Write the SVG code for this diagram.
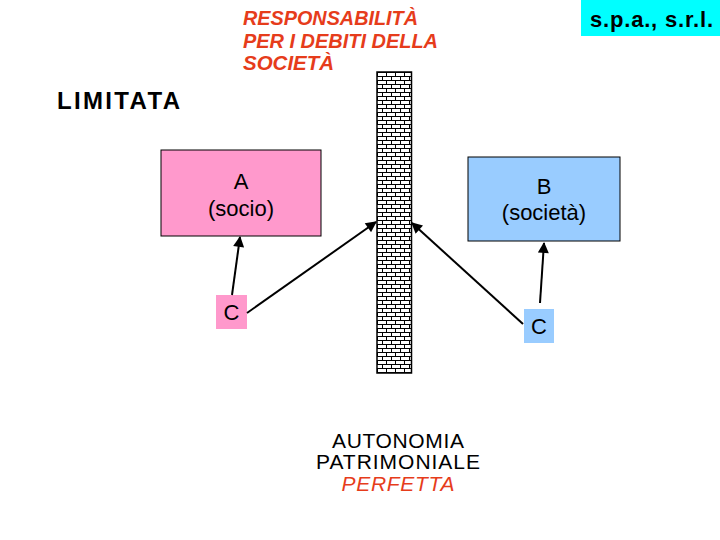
<svg xmlns="http://www.w3.org/2000/svg" width="720" height="540" viewBox="0 0 720 540">
<style>
text{font-family:"Liberation Sans",Arial,sans-serif;}
.red{fill:#E63C1B;font-weight:bold;font-style:italic;font-size:20.5px;}
.lbl{font-size:22px;fill:#000;text-anchor:middle;}
.bot{font-size:21px;fill:#000;text-anchor:middle;}
.conn{stroke:#000;stroke-width:2;fill:none;marker-end:url(#ah);}
</style>
<defs>
<marker id="ah" viewBox="0 0 10 10" refX="9" refY="5" markerWidth="6" markerHeight="5.5" orient="auto" markerUnits="strokeWidth">
<path d="M0,0 L10,5 L0,10 z" fill="#000"/>
</marker>
<pattern id="brick" patternUnits="userSpaceOnUse" x="377" y="72" width="18" height="8">
<rect width="18" height="8" fill="#fff"/>
<path d="M0,0.5 H18 M0,4.5 H18 M0.5,0.5 V4.5 M9.5,0.5 V4.5 M5.5,4.5 V8.5 M14.5,4.5 V8.5" stroke="#000" stroke-width="1" fill="none"/>
</pattern>
</defs>
<rect width="720" height="540" fill="#fff"/>

<g id="title">
<text class="red" x="243" y="25" textLength="175" lengthAdjust="spacingAndGlyphs">RESPONSABILITÀ</text>
<text class="red" x="243" y="48" textLength="195" lengthAdjust="spacingAndGlyphs">PER I DEBITI DELLA</text>
<text class="red" x="243" y="70">SOCIETÀ</text>
</g>

<g id="spa">
<rect x="581" y="0" width="139" height="36" fill="#00FFFF"/>
<text x="590" y="27" font-size="22" font-weight="bold" textLength="123" lengthAdjust="spacing">s.p.a., s.r.l.</text>
</g>

<g id="limitata">
<text x="57" y="109" font-size="24" font-weight="bold" textLength="123" lengthAdjust="spacing">LIMITATA</text>
</g>

<g id="wall">
<rect x="377" y="72" width="34.5" height="301" fill="url(#brick)" stroke="#000" stroke-width="1.5"/>
</g>

<g id="nodeA">
<rect x="161" y="150" width="160" height="86" fill="#FF99CC" stroke="#000" stroke-width="1"/>
<text class="lbl" x="241" y="189">A</text>
<text class="lbl" x="241" y="216">(socio)</text>
</g>

<g id="nodeB">
<rect x="468" y="157" width="152" height="84" fill="#99CCFF" stroke="#000" stroke-width="1"/>
<text class="lbl" x="544" y="194">B</text>
<text class="lbl" x="544" y="220">(società)</text>
</g>

<g id="nodeC1">
<rect x="216" y="295" width="31" height="34" fill="#FF99CC"/>
<text class="lbl" x="231.5" y="320">C</text>
</g>

<g id="nodeC2">
<rect x="524" y="309" width="30" height="34" fill="#99CCFF"/>
<text class="lbl" x="539" y="334">C</text>
</g>

<g id="connectors">
<line class="conn" x1="232" y1="295" x2="240" y2="237"/>
<line class="conn" x1="247" y1="313" x2="376" y2="222"/>
<line class="conn" x1="540" y1="303" x2="544" y2="243"/>
<line class="conn" x1="523" y1="324" x2="412" y2="223"/>
</g>

<g id="bottom">
<text class="bot" x="398" y="448" textLength="132" lengthAdjust="spacing">AUTONOMIA</text>
<text class="bot" x="398" y="469" textLength="164" lengthAdjust="spacing">PATRIMONIALE</text>
<text class="bot" x="398" y="491" font-style="italic" style="fill:#E63C1B" textLength="113" lengthAdjust="spacing">PERFETTA</text>
</g>
</svg>
